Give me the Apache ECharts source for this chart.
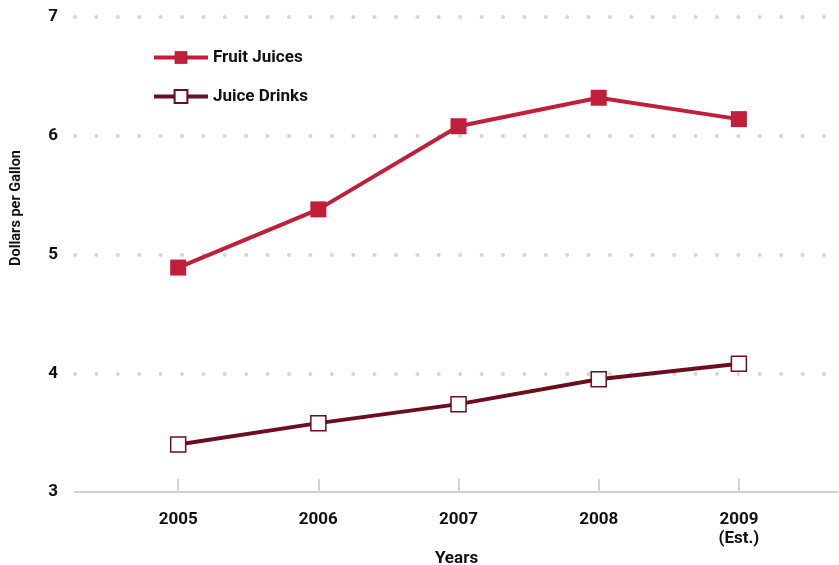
<!DOCTYPE html>
<html><head><meta charset="utf-8">
<script src="https://cdn.jsdelivr.net/npm/echarts@6/dist/echarts.min.js"></script>
<style>html,body{margin:0;padding:0;background:#fff}#c{width:839px;height:565px}</style>
</head><body><div id="c"></div>
<script>
var years = [2005, 2006, 2007, 2008, 2009];
var yearLabels = ['2005', '2006', '2007', '2008', '2009\n(Est.)'];
var fruitJuices = [4.89, 5.38, 6.08, 6.32, 6.14];
var juiceDrinks = [3.40, 3.58, 3.74, 3.95, 4.08];
var yTicks = [3, 4, 5, 6, 7];

var FONT = 'Roboto, "Open Sans", sans-serif';
var chart = echarts.init(document.getElementById('c'));
function pairs(vals){ return years.map(function(y,i){ return [y, vals[i]]; }); }
chart.setOption({
  animation: false,
  grid: { left: 75, right: 1, top: 17, bottom: 73, outerBoundsMode: 'none', containLabel: false },
  legend: {
    orient: 'vertical', left: 147, top: 44, itemGap: 22,
    itemWidth: 54, itemHeight: 16,
    lineStyle: { width: 4 },
    textStyle: { fontFamily: FONT, fontWeight: 'bold', fontSize: 17, color: '#111' },
    data: ['Fruit Juices', 'Juice Drinks']
  },
  xAxis: {
    type: 'value', min: 2004.264, max: 2009.707,
    name: 'Years', nameLocation: 'middle', nameGap: 58, nameMoveOverlap: false,
    nameTextStyle: { fontFamily: FONT, fontWeight: 'bold', fontSize: 17, color: '#111' },
    axisLine: { show: true, lineStyle: { color: '#d3d3cb', width: 2 } },
    axisTick: { show: true, inside: true, length: 13, customValues: years, lineStyle: { color: '#d3d3cb', width: 2 } },
    axisLabel: {
      customValues: years, margin: 18, lineHeight: 19,
      fontFamily: FONT, fontWeight: 'bold', fontSize: 17, color: '#111',
      formatter: function(v){ var i = years.indexOf(Math.round(v)); return i >= 0 ? yearLabels[i] : ''; }
    },
    splitLine: { show: false }
  },
  yAxis: {
    type: 'value', min: 3, max: 7, interval: 1,
    axisLine: { show: false }, axisTick: { show: false },
    axisLabel: { margin: 17, fontFamily: FONT, fontWeight: 'bold', fontSize: 17, color: '#111',
      formatter: function(v){ return yTicks.indexOf(v) >= 0 ? String(v) : ''; } },
    splitLine: { show: true, showMinLine: false, lineStyle: { color: '#d6d6d0', width: 4, type: [0, 21.4], cap: 'round' } }
  },
  graphic: [{
    type: 'text', left: 9, top: 150, rotation: Math.PI / 2,
    style: { text: 'Dollars per Gallon', fontFamily: FONT, fontWeight: 'bold', fontSize: 14.5, fill: '#111' }
  }],
  series: [{
    name: 'Fruit Juices', type: 'line', data: pairs(fruitJuices),
    symbol: 'rect', symbolSize: 16,
    lineStyle: { color: '#bf1f3b', width: 4 },
    itemStyle: { color: '#bf1f3b', borderWidth: 0 }
  }, {
    name: 'Juice Drinks', type: 'line', data: pairs(juiceDrinks),
    symbol: 'rect', symbolSize: 15,
    lineStyle: { color: '#6a0e20', width: 4 },
    itemStyle: { color: '#ffffff', borderColor: '#6a0e20', borderWidth: 1.5 }
  }]
});
</script></body></html>
